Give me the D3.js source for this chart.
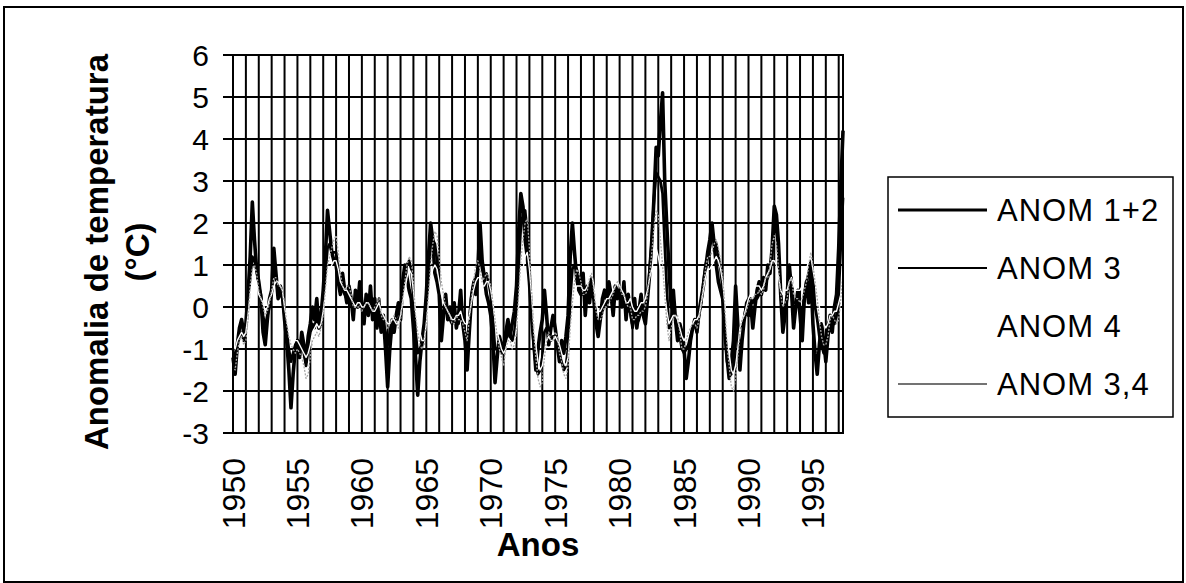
<!DOCTYPE html>
<html>
<head>
<meta charset="utf-8">
<script src="https://cdn.jsdelivr.net/npm/d3@7"></script>
<style>
    body { margin: 0; background: #fff; }
    svg { display: block; }
    text { font-family: "Liberation Sans", Arial, sans-serif; fill: #000; }
</style>
</head>
<body>
<div id="chart"></div>
<script>
// Anomalias bimestrais (jan, mar, mai, jul, set, nov), 1950 .. mar/1997
const START_YEAR = 1950
const STEP = 1 / 6

const anom12 = [
    -1.2, -1.6, -0.9, -0.5, -0.3, -0.6,   // 1950
    -0.4,  0.3,  1.2,  2.5,  1.6,  0.9,   // 1951
     0.6,  0.2, -0.6, -0.9, -0.3,  0.2,   // 1952
     0.4,  1.4,  0.8,  0.2,  0.5,  0.3,   // 1953
    -0.3, -0.8, -1.5, -2.4, -1.6, -1.0,   // 1954
    -0.8, -1.2, -0.6, -0.9, -1.3, -0.7,   // 1955
    -0.4,  0.0, -0.3,  0.2, -0.5, -0.2,   // 1956
     0.4,  1.2,  2.3,  1.8,  1.3,  1.1,   // 1957
     1.0,  0.6,  0.3,  0.8,  0.4,  0.1,   // 1958
     0.5,  0.2, -0.3,  0.4,  0.0,  0.6,   // 1959
     0.1, -0.4,  0.3, -0.2,  0.5, -0.3,   // 1960
     0.2, -0.5,  0.0, -0.6, -0.2, -1.0,   // 1961
    -1.9, -1.0, -0.4, -0.6, -0.2,  0.1,   // 1962
    -0.3,  0.6,  1.0,  0.7,  0.4,  0.2,   // 1963
    -0.5, -1.2, -2.1, -1.3, -0.8, -0.4,   // 1964
     0.3,  1.2,  2.0,  1.6,  0.8,  0.6,   // 1965
     0.3, -0.8, -0.2,  0.3, -0.3,  0.0,   // 1966
    -0.3,  0.1, -0.5, -0.2,  0.4, -0.4,   // 1967
    -0.8, -1.5, -0.6,  0.2,  0.5,  0.3,   // 1968
     0.9,  2.0,  1.1,  0.7,  0.3,  0.1,   // 1969
    -0.2, -0.8, -1.8, -1.2, -0.7, -0.9,   // 1970
    -1.0, -0.6, -0.3, -0.7, -0.4, -0.1,   // 1971
     0.5,  1.8,  2.7,  2.4,  1.6,  1.2,   // 1972
     0.6, -0.2, -0.8, -1.5, -1.0, -0.6,   // 1973
    -0.3,  0.4, -0.2, -0.9, -0.5, -0.2,   // 1974
    -0.5, -0.9, -1.3, -0.8, -1.1, -0.7,   // 1975
    -0.2,  1.2,  2.0,  1.3,  0.7,  0.4,   // 1976
     0.3,  0.8, -0.2,  0.5,  0.1,  0.6,   // 1977
     0.2, -0.4, -0.7, -0.3,  0.2,  0.4,   // 1978
     0.1,  0.6,  0.3, -0.2,  0.5,  0.2,   // 1979
     0.4,  0.0,  0.6, -0.3,  0.3, -0.1,   // 1980
    -0.4,  0.2, -0.5, -0.1,  0.3, -0.2,   // 1981
    -0.4,  0.2,  0.8,  1.6,  2.6,  3.8,   // 1982
     3.6,  4.4,  5.1,  3.0,  1.9,  0.9,   // 1983
     0.0,  0.4, -0.3, -0.8, -0.4, -0.6,   // 1984
    -1.0, -1.7, -1.3, -0.8, -0.5, -0.3,   // 1985
    -0.6, -0.1,  0.2,  0.5,  0.9,  1.3,   // 1986
     1.6,  2.0,  1.5,  1.0,  0.6,  0.4,   // 1987
     0.2, -0.6, -1.2, -1.7, -1.3, -0.8,   // 1988
     0.5, -0.4, -1.5, -0.8, -0.3,  0.0,   // 1989
    -0.2,  0.1, -0.5,  0.0,  0.4,  0.6,   // 1990
     0.3,  0.7,  0.4,  1.0,  0.8,  1.4,   // 1991
     2.4,  2.2,  1.5,  0.3, -0.6, -0.2,   // 1992
     0.3,  1.0,  0.4, -0.5,  0.0,  0.4,   // 1993
    -0.2, -0.8,  0.2,  0.6,  0.1,  0.9,   // 1994
    -0.4, -1.1, -1.6, -0.9, -0.4, -0.8,   // 1995
    -1.3, -0.7, -0.2, -0.6,  0.0,  0.3,   // 1996
     1.4,  2.9,  4.2                      // 1997
]

const anom3 = [
    -1.0, -1.3, -0.9, -0.7, -0.6, -0.8,   // 1950
    -0.5,  0.0,  0.7,  1.2,  1.1,  0.9,   // 1951
     0.5,  0.3, -0.2, -0.5, -0.2,  0.0,   // 1952
     0.3,  0.9,  0.7,  0.4,  0.3,  0.2,   // 1953
    -0.2, -0.6, -1.0, -1.3, -1.1, -0.9,   // 1954
    -0.8, -1.0, -0.9, -1.1, -1.4, -1.0,   // 1955
    -0.7, -0.4, -0.5, -0.2, -0.5, -0.4,   // 1956
     0.1,  0.8,  1.4,  1.5,  1.3,  1.3,   // 1957
     1.3,  0.9,  0.6,  0.4,  0.3,  0.2,   // 1958
     0.3,  0.2,  0.0,  0.1,  0.0,  0.2,   // 1959
     0.0, -0.2,  0.1, -0.1,  0.1, -0.2,   // 1960
     0.0, -0.2,  0.2, -0.4, -0.4, -0.6,   // 1961
    -0.9, -0.6, -0.3, -0.4, -0.3, -0.3,   // 1962
    -0.2,  0.3,  0.8,  1.0,  1.1,  0.9,   // 1963
     0.2, -0.6, -1.1, -1.0, -0.9, -0.7,   // 1964
    -0.1,  0.7,  1.5,  1.6,  1.5,  1.1,   // 1965
     0.5, -0.2, -0.1,  0.0, -0.2, -0.3,   // 1966
    -0.4, -0.2, -0.3, -0.4, -0.1, -0.4,   // 1967
    -0.6, -0.9, -0.3,  0.3,  0.6,  0.7,   // 1968
     0.9,  1.2,  0.9,  0.7,  0.8,  0.6,   // 1969
     0.3, -0.3, -1.0, -1.0, -0.9, -1.1,   // 1970
    -1.1, -0.8, -0.6, -0.7, -0.8, -0.6,   // 1971
    -0.1,  1.0,  1.9,  2.2,  2.3,  1.8,   // 1972
     0.9, -0.1, -0.9, -1.4, -1.6, -1.5,   // 1973
    -1.2, -0.6, -0.5, -0.6, -0.8, -0.7,   // 1974
    -0.7, -0.9, -1.1, -1.3, -1.5, -1.4,   // 1975
    -1.0,  0.2,  0.9,  1.0,  0.9,  0.7,   // 1976
     0.4,  0.5,  0.2,  0.4,  0.6,  0.7,   // 1977
     0.3, -0.2, -0.4, -0.3, -0.1,  0.1,   // 1978
     0.0,  0.3,  0.2,  0.2,  0.5,  0.4,   // 1979
     0.3,  0.1,  0.4,  0.0, -0.1, -0.1,   // 1980
    -0.5, -0.2, -0.4, -0.3, -0.1, -0.2,   // 1981
    -0.1,  0.3,  0.9,  1.6,  2.6,  3.2,   // 1982
     3.1,  3.0,  2.7,  1.5,  0.4, -0.5,   // 1983
    -0.3,  0.0, -0.3, -0.6, -0.7, -1.0,   // 1984
    -1.1, -1.0, -0.9, -0.7, -0.5, -0.4,   // 1985
    -0.5, -0.2,  0.1,  0.6,  1.0,  1.2,   // 1986
     1.4,  1.7,  1.6,  1.5,  1.2,  0.9,   // 1987
     0.4, -0.4, -1.3, -1.5, -1.6, -1.4,   // 1988
    -0.8, -0.5, -0.5, -0.4, -0.3,  0.1,   // 1989
     0.2,  0.2,  0.1,  0.2,  0.2,  0.3,   // 1990
     0.3,  0.5,  0.6,  0.7,  0.9,  1.3,   // 1991
     1.8,  2.0,  1.2,  0.3, -0.2,  0.0,   // 1992
     0.2,  0.8,  0.7,  0.1,  0.1,  0.2,   // 1993
     0.0, -0.2,  0.3,  0.6,  0.8,  1.1,   // 1994
     0.7,  0.0, -0.3, -0.7, -0.9, -1.1,   // 1995
    -0.8, -0.4, -0.3, -0.4, -0.4, -0.2,   // 1996
     0.3,  1.5,  2.6                      // 1997
]

const anom4 = [
    -0.9, -1.0, -0.8, -0.7, -0.6, -0.7,   // 1950
    -0.6, -0.2,  0.3,  0.6,  0.7,  0.6,   // 1951
     0.3,  0.2,  0.1, -0.1,  0.0,  0.2,   // 1952
     0.3,  0.5,  0.6,  0.6,  0.5,  0.4,   // 1953
     0.0, -0.3, -0.5, -0.6, -0.7, -0.8,   // 1954
    -0.8, -0.9, -1.0, -1.1, -1.2, -1.1,   // 1955
    -0.9, -0.6, -0.5, -0.4, -0.5, -0.4,   // 1956
    -0.1,  0.3,  0.7,  0.9,  1.0,  1.1,   // 1957
     1.1,  0.9,  0.6,  0.5,  0.4,  0.4,   // 1958
     0.3,  0.2,  0.1,  0.0,  0.1,  0.1,   // 1959
     0.0,  0.0,  0.1,  0.1,  0.0, -0.1,   // 1960
    -0.1,  0.0,  0.1, -0.1, -0.2, -0.3,   // 1961
    -0.4, -0.4, -0.3, -0.3, -0.4, -0.4,   // 1962
    -0.2,  0.1,  0.4,  0.7,  0.9,  0.8,   // 1963
     0.4, -0.1, -0.4, -0.6, -0.8, -0.8,   // 1964
    -0.4,  0.1,  0.6,  0.9,  1.0,  0.9,   // 1965
     0.6,  0.3,  0.1,  0.0, -0.1, -0.2,   // 1966
    -0.3, -0.3, -0.2, -0.2, -0.1, -0.3,   // 1967
    -0.4, -0.4, -0.2,  0.1,  0.4,  0.6,   // 1968
     0.7,  0.7,  0.5,  0.5,  0.6,  0.6,   // 1969
     0.4,  0.1, -0.3, -0.6, -0.8, -1.0,   // 1970
    -1.1, -1.0, -0.8, -0.8, -0.9, -0.9,   // 1971
    -0.5,  0.0,  0.5,  0.9,  1.2,  1.3,   // 1972
     0.9,  0.3, -0.4, -0.9, -1.3, -1.5,   // 1973
    -1.4, -1.1, -0.8, -0.7, -0.8, -0.8,   // 1974
    -0.7, -0.8, -0.9, -1.1, -1.3, -1.4,   // 1975
    -1.2, -0.6, -0.1,  0.3,  0.5,  0.5,   // 1976
     0.5,  0.4,  0.4,  0.5,  0.7,  0.8,   // 1977
     0.5,  0.1, -0.1, -0.1,  0.0,  0.1,   // 1978
     0.2,  0.2,  0.3,  0.4,  0.5,  0.6,   // 1979
     0.5,  0.4,  0.3,  0.1,  0.1,  0.2,   // 1980
     0.0, -0.1, -0.1,  0.0,  0.1,  0.1,   // 1981
     0.2,  0.4,  0.7,  0.9,  1.2,  1.4,   // 1982
     1.2,  0.9,  0.6,  0.3, -0.1, -0.4,   // 1983
    -0.3, -0.2, -0.2, -0.3, -0.5, -0.7,   // 1984
    -0.8, -0.7, -0.5, -0.4, -0.4, -0.3,   // 1985
    -0.3, -0.2,  0.1,  0.4,  0.7,  0.9,   // 1986
     0.9,  1.0,  1.1,  1.2,  1.1,  0.9,   // 1987
     0.6,  0.1, -0.6, -1.1, -1.5, -1.6,   // 1988
    -1.4, -1.0, -0.5, -0.3, -0.2,  0.0,   // 1989
     0.2,  0.3,  0.4,  0.5,  0.5,  0.5,   // 1990
     0.4,  0.5,  0.7,  0.8,  0.9,  1.1,   // 1991
     1.1,  1.0,  0.7,  0.4,  0.3,  0.4,   // 1992
     0.4,  0.6,  0.7,  0.5,  0.4,  0.4,   // 1993
     0.4,  0.5,  0.7,  0.9,  1.1,  1.2,   // 1994
     0.9,  0.6,  0.3,  0.0, -0.2, -0.4,   // 1995
    -0.5, -0.4, -0.2, -0.2, -0.1, -0.1,   // 1996
     0.1,  0.3,  0.6                      // 1997
]

const anom34 = [
    -1.4, -1.5, -1.1, -0.8, -0.7, -0.9,   // 1950
    -0.8, -0.3,  0.5,  0.9,  1.0,  0.8,   // 1951
     0.4,  0.2,  0.0, -0.2, -0.1,  0.1,   // 1952
     0.4,  0.7,  0.7,  0.5,  0.5,  0.4,   // 1953
     0.1, -0.4, -0.7, -0.9, -1.0, -1.1,   // 1954
    -1.0, -1.1, -1.2, -1.4, -1.7, -1.6,   // 1955
    -1.2, -0.8, -0.7, -0.6, -0.7, -0.5,   // 1956
    -0.2,  0.4,  1.0,  1.2,  1.4,  1.6,   // 1957
     1.7,  1.3,  0.8,  0.5,  0.4,  0.5,   // 1958
     0.5,  0.3,  0.0,  0.0,  0.0,  0.0,   // 1959
    -0.1,  0.0,  0.1,  0.1,  0.0, -0.1,   // 1960
     0.0,  0.1,  0.2, -0.2, -0.3, -0.3,   // 1961
    -0.5, -0.4, -0.3, -0.2, -0.3, -0.5,   // 1962
    -0.3,  0.2,  0.6,  1.0,  1.2,  1.1,   // 1963
     0.6, -0.2, -0.6, -0.9, -1.0, -0.9,   // 1964
    -0.4,  0.3,  1.0,  1.5,  1.8,  1.7,   // 1965
     1.2,  0.6,  0.3,  0.0, -0.1, -0.2,   // 1966
    -0.4, -0.4, -0.2, -0.3, -0.3, -0.4,   // 1967
    -0.6, -0.8, -0.3,  0.2,  0.6,  1.0,   // 1968
     1.1,  0.9,  0.6,  0.7,  0.8,  0.7,   // 1969
     0.5,  0.1, -0.3, -0.7, -1.0, -1.2,   // 1970
    -1.4, -1.0, -0.8, -0.8, -1.0, -0.9,   // 1971
    -0.6,  0.3,  1.1,  1.6,  2.0,  2.1,   // 1972
     1.4,  0.4, -0.6, -1.2, -1.7, -1.9,   // 1973
    -1.8, -1.2, -0.8, -0.6, -0.8, -0.8,   // 1974
    -0.6, -0.7, -1.1, -1.3, -1.6, -1.7,   // 1975
    -1.4, -0.5,  0.1,  0.6,  0.9,  0.8,   // 1976
     0.6,  0.3,  0.3,  0.4,  0.7,  0.8,   // 1977
     0.4, -0.1, -0.3, -0.3, -0.2,  0.0,   // 1978
     0.0,  0.1,  0.2,  0.3,  0.5,  0.6,   // 1979
     0.5,  0.3,  0.3,  0.1,  0.0,  0.0,   // 1980
    -0.3, -0.3, -0.2, -0.2, -0.1, -0.1,   // 1981
     0.0,  0.3,  0.8,  1.3,  1.9,  2.3,   // 1982
     2.2,  1.6,  1.0,  0.3, -0.4, -0.8,   // 1983
    -0.5, -0.3, -0.2, -0.2, -0.6, -1.0,   // 1984
    -1.0, -0.8, -0.6, -0.5, -0.4, -0.4,   // 1985
    -0.5, -0.3,  0.1,  0.5,  0.9,  1.2,   // 1986
     1.2,  1.3,  1.5,  1.6,  1.4,  1.1,   // 1987
     0.7,  0.0, -0.9, -1.4, -1.9, -2.0,   // 1988
    -1.7, -1.2, -0.6, -0.3, -0.2, -0.1,   // 1989
     0.1,  0.2,  0.2,  0.3,  0.3,  0.4,   // 1990
     0.3,  0.4,  0.7,  0.7,  1.0,  1.5,   // 1991
     1.7,  1.5,  0.9,  0.3,  0.0,  0.1,   // 1992
     0.2,  0.6,  0.7,  0.3,  0.2,  0.2,   // 1993
     0.1,  0.2,  0.4,  0.6,  1.0,  1.3,   // 1994
     1.0,  0.6,  0.2, -0.3, -0.7, -0.9,   // 1995
    -0.9, -0.7, -0.3, -0.2, -0.3, -0.4,   // 1996
    -0.3,  0.2,  0.8                      // 1997
]

const seriesNames = ["ANOM 1+2", "ANOM 3", "ANOM 4", "ANOM 3,4"]
const xTickYears = [1950, 1955, 1960, 1965, 1970, 1975, 1980, 1985, 1990, 1995]
const yTickValues = [-3, -2, -1, 0, 1, 2, 3, 4, 5, 6]

function drawChart(container) {

    const WIDTH = 1186
    const HEIGHT = 583
    const PLOT = {LEFT: 233, RIGHT: 843, TOP: 55, BOTTOM: 433}
    const END_YEAR = START_YEAR + (anom12.length - 1) * STEP

    // estilo de cada série, na ordem da legenda
    const styles = [
        {values: anom12, colour: "#000", width: 3.6, dash: null},
        {values: anom3,  colour: "#000", width: 2.8, dash: null},
        {values: anom4,  colour: "#fff", width: 1.4, dash: null},
        {values: anom34, colour: "#a8a8a8", width: 1.3, dash: "2,1.5"}
    ]

    let svg = d3.select(container).append("svg")
        .attr("width", WIDTH)
        .attr("height", HEIGHT)

    svg.append("rect")
        .attr("width", WIDTH).attr("height", HEIGHT)
        .attr("fill", "#fff")

    // moldura externa
    svg.append("rect")
        .attr("x", 4).attr("y", 7)
        .attr("width", 1179).attr("height", 575)
        .attr("fill", "none")
        .attr("stroke", "#000")
        .attr("stroke-width", 2)

    let xScale = d3.scaleLinear()
        .domain([START_YEAR, END_YEAR])
        .range([PLOT.LEFT, PLOT.RIGHT])

    let yScale = d3.scaleLinear()
        .domain([-3, 6])
        .range([PLOT.BOTTOM, PLOT.TOP])

    // grade vertical, uma linha por ano
    svg.append("g")
        .selectAll("line")
        .data(d3.range(START_YEAR + 1, Math.floor(END_YEAR) + 1))
        .join("line")
        .attr("x1", d => xScale(d)).attr("x2", d => xScale(d))
        .attr("y1", PLOT.TOP).attr("y2", PLOT.BOTTOM)
        .attr("stroke", "#000")
        .attr("stroke-width", 2)

    // grade horizontal + marcas do eixo y
    svg.append("g")
        .selectAll("line")
        .data(yTickValues)
        .join("line")
        .attr("x1", PLOT.LEFT - 10).attr("x2", PLOT.RIGHT)
        .attr("y1", d => yScale(d)).attr("y2", d => yScale(d))
        .attr("stroke", "#000")
        .attr("stroke-width", 2)

    // séries
    let line = d3.line()
        .x((d, i) => xScale(START_YEAR + i * STEP))
        .y(d => yScale(d))

    svg.append("g")
        .selectAll("path")
        .data(styles)
        .join("path")
        .attr("d", d => line(d.values))
        .attr("fill", "none")
        .attr("stroke", d => d.colour)
        .attr("stroke-width", d => d.width)
        .attr("stroke-dasharray", d => d.dash)
        .attr("stroke-linejoin", "round")

    // borda da área do gráfico
    svg.append("rect")
        .attr("x", PLOT.LEFT).attr("y", PLOT.TOP)
        .attr("width", PLOT.RIGHT - PLOT.LEFT)
        .attr("height", PLOT.BOTTOM - PLOT.TOP)
        .attr("fill", "none")
        .attr("stroke", "#000")
        .attr("stroke-width", 2)

    // rótulos do eixo y
    svg.append("g")
        .selectAll("text")
        .data(yTickValues)
        .join("text")
        .attr("x", 209)
        .attr("y", d => yScale(d))
        .attr("dy", "0.36em")
        .attr("text-anchor", "end")
        .attr("font-size", 30)
        .text(d => d)

    // rótulos do eixo x (verticais)
    svg.append("g")
        .selectAll("text")
        .data(xTickYears)
        .join("text")
        .attr("transform", d => "translate(" + xScale(d) + ",458) rotate(-90)")
        .attr("dy", "0.36em")
        .attr("text-anchor", "end")
        .attr("font-size", 32)
        .text(d => d)

    // títulos dos eixos
    svg.append("text")
        .attr("x", (PLOT.LEFT + PLOT.RIGHT) / 2)
        .attr("y", 556)
        .attr("text-anchor", "middle")
        .attr("font-size", 33)
        .attr("font-weight", "bold")
        .text("Anos")

    let yTitle = svg.append("text")
        .attr("transform", "translate(108,252) rotate(-90)")
        .attr("text-anchor", "middle")
        .attr("font-size", 33)
        .attr("font-weight", "bold")
    yTitle.append("tspan").attr("x", 0).attr("dy", 0).text("Anomalia de temperatura")
    yTitle.append("tspan").attr("x", 0).attr("dy", "1.25em").text("(°C)")

    // legenda
    let legend = svg.append("g").attr("transform", "translate(888,177)")
    legend.append("rect")
        .attr("width", 285).attr("height", 240)
        .attr("fill", "#fff")
        .attr("stroke", "#000")
        .attr("stroke-width", 1.5)

    const legendLine = [
        {colour: "#000", width: 3},
        {colour: "#000", width: 2},
        {colour: "#fff", width: 1.5},
        {colour: "#444", width: 1.3}
    ]

    let items = legend.selectAll("g")
        .data(seriesNames)
        .join("g")
        .attr("transform", (d, i) => "translate(0," + (33 + i * 58) + ")")

    items.append("line")
        .attr("x1", 10).attr("x2", 99)
        .attr("stroke", (d, i) => legendLine[i].colour)
        .attr("stroke-width", (d, i) => legendLine[i].width)

    items.append("text")
        .attr("x", 109)
        .attr("dy", "0.36em")
        .attr("font-size", 31)
        .attr("letter-spacing", 1)
        .text(d => d)
}

drawChart("#chart")
</script>
</body>
</html>
